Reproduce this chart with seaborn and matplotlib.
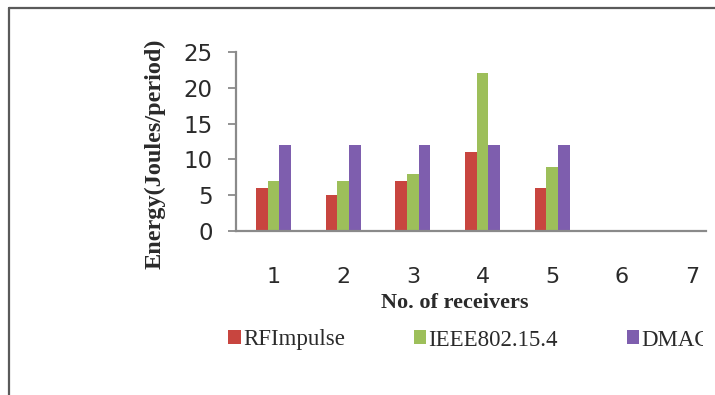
import numpy as np
import pandas as pd
import seaborn as sns
import matplotlib.pyplot as plt
from matplotlib.patches import Rectangle
from matplotlib.lines import Line2D

# Energy per period for each protocol, by number of receivers
receivers = ["1", "2", "3", "4", "5", "6", "7"]
rf_impulse = [6, 5, 7, 11, 6, 0, 0]
ieee_802154 = [7, 7, 8, 22, 9, 0, 0]
dmac = [12, 12, 12, 12, 12, 0, 0]
series_names = ["RFImpulse", "IEEE802.15.4", "DMAC"]
y_ticks = [0, 5, 10, 15, 20, 25]

colors = ["#C8453F", "#9DBF5A", "#7E5EAE"]

df = pd.DataFrame({
    "receivers": receivers * 3,
    "energy": rf_impulse + ieee_802154 + dmac,
    "protocol": [series_names[0]] * 7 + [series_names[1]] * 7 + [series_names[2]] * 7,
})

sns.set_theme(style="white")
plt.rcParams["font.family"] = ["DejaVu Sans"]

W, H = 715, 395
fig = plt.figure(figsize=(W / 100, H / 100), dpi=100)

def fx(px):
    return px / W

def fy(py):
    return 1 - py / H

# plot area in pixel coordinates
left, right, top, bottom = 236, 706, 52, 231
ax = fig.add_axes([fx(left), fy(bottom), fx(right) - fx(left), fy(top) - fy(bottom)])

sns.barplot(data=df, x="receivers", y="energy", hue="protocol",
            hue_order=series_names, palette=colors, width=0.5, gap=0,
            linewidth=0, saturation=1, ax=ax)

# category spacing ~69.7 px, first category centred at x~273.5
spacing = 69.7
x0 = -(273.5 - left) / spacing
x1 = (right - 273.5) / spacing
ax.set_xlim(x0, x1)
ax.set_ylim(0, 25)
ax.set_yticks(y_ticks)

axis_color = "#8A8A8A"
for side in ["top", "right"]:
    ax.spines[side].set_visible(False)
for side in ["left", "bottom"]:
    ax.spines[side].set_color(axis_color)
    ax.spines[side].set_linewidth(1.6)

ax.tick_params(axis="y", which="major", direction="out", length=5.8, width=1.3,
               color=axis_color, pad=11, labelsize=16.5, labelcolor="#2a2a2a", left=True)
ax.tick_params(axis="x", length=0, pad=26, labelsize=16, labelcolor="#2a2a2a")
ax.set_xlabel("")
ax.set_ylabel("")

# axis titles
fig.text(fx(455), fy(303), "No. of receivers", ha="center", va="center",
         family="Liberation Serif", fontweight="bold", fontsize=16, color="#2a2a2a")
fig.text(fx(155), fy(154), "Energy(Joules/period)", ha="center", va="center",
         rotation=90, family="Liberation Serif", fontweight="bold", fontsize=17.5,
         color="#2a2a2a")

# legend below the chart
ax.get_legend().remove()
handles = [Rectangle((0, 0), 1, 1, facecolor=c, edgecolor="none") for c in colors]
leg = fig.legend(handles, series_names, loc="center left",
                 bbox_to_anchor=(fx(228), fy(340)), ncol=3, frameon=False,
                 borderpad=0, borderaxespad=0, handlelength=0.55, handleheight=0.55,
                 handletextpad=0.1, columnspacing=3.0,
                 prop={"family": "Liberation Serif", "size": 16.5})
for t in leg.get_texts():
    t.set_color("#2a2a2a")

# chart frame (left and top edges)
frame_color = "#5a5a5a"
fig.add_artist(Line2D([fx(9), fx(715)], [fy(8), fy(8)], color=frame_color, lw=1.6))
fig.add_artist(Line2D([fx(9), fx(9)], [fy(8), fy(395)], color=frame_color, lw=1.6))

# right edge of the chart area
fig.add_artist(Rectangle((fx(703), fy(365)), fx(715) - fx(703), fy(320) - fy(365),
                         transform=fig.transFigure, facecolor="white",
                         edgecolor="none", zorder=10))

fig.savefig("out.png", dpi=100)
